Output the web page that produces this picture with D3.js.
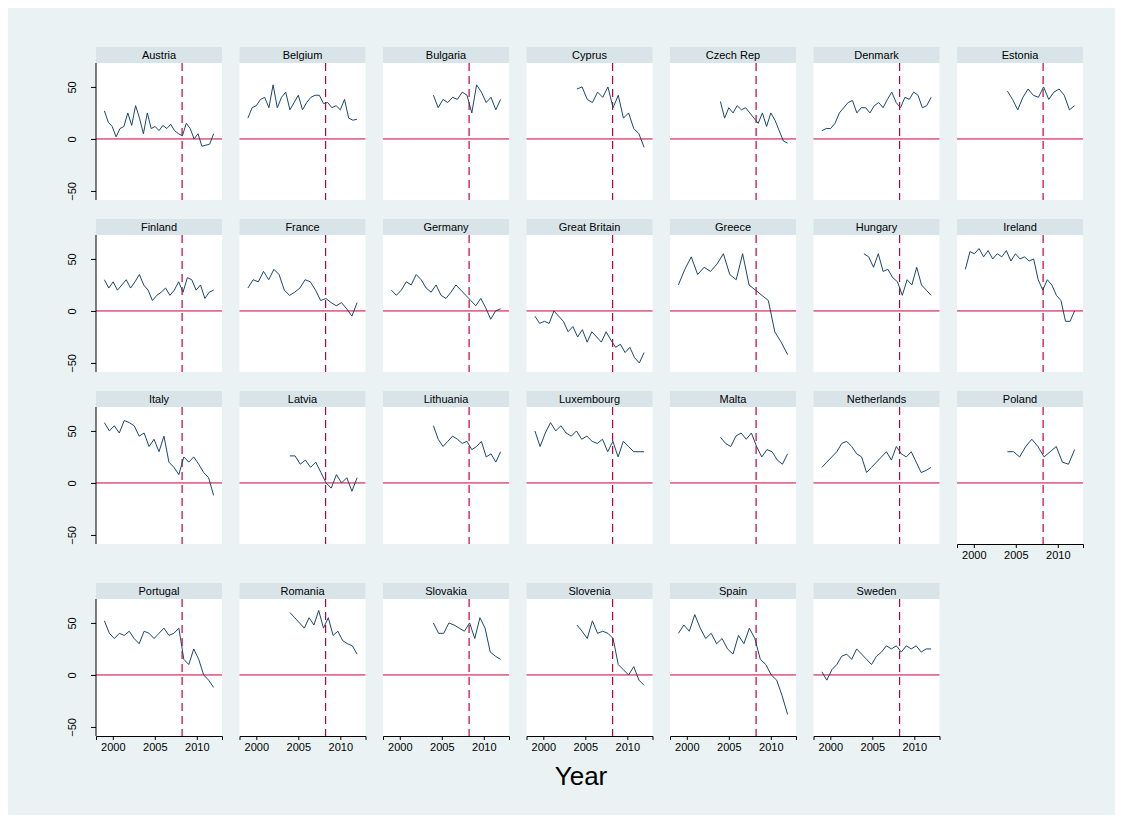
<!DOCTYPE html>
<html>
<meta charset="utf-8" />
<title>Panels</title>
<style>body{margin:0;background:#fff}svg text{font-family:"Liberation Sans",Arial,sans-serif}</style>
<body>
<div id="chart"></div>
<script src="https://cdn.jsdelivr.net/npm/d3@7"></script>
<script>
  // country, first year, values (evenly spread up to 2012)
  var countries = ['Austria','Belgium','Bulgaria','Cyprus','Czech Rep','Denmark','Estonia',
    'Finland','France','Germany','Great Britain','Greece','Hungary','Ireland',
    'Italy','Latvia','Lithuania','Luxembourg','Malta','Netherlands','Poland',
    'Portugal','Romania','Slovakia','Slovenia','Spain','Sweden'];
  var startYears = [1999,1999,2004,2004,2004,1999,2004, 1999,1999,1999,1999,1999,2004,1999,
    1999,2004,2004,1999,2004,1999,2004, 1999,2004,2004,2004,1999,1999];
  var series = [
    [27,16,12,2,10,12,25,13,32,20,5,25,10,12,8,13,10,14,8,5,3,15,10,0,5,-7,-6,-5,5],
    [20,30,32,38,40,30,52,30,40,45,28,35,42,28,35,40,42,42,34,35,30,32,28,38,20,18,19],
    [42,30,38,35,40,38,45,42,25,52,45,35,40,28,38],
    [48,50,38,35,45,40,50,30,42,20,25,10,5,-8],
    [36,20,30,25,32,28,30,25,20,15,25,12,25,18,8,-2,-4],
    [8,10,10,15,25,30,35,37,25,30,30,25,32,35,30,38,45,35,30,40,38,45,42,30,32,40],
    [46,38,28,40,48,42,40,50,38,45,48,42,28,32],
    [30,22,28,20,25,30,22,28,35,25,20,10,15,18,22,15,20,28,18,32,30,20,25,12,18,20],
    [22,30,28,38,30,40,35,20,15,18,22,30,28,20,10,12,8,5,8,2,-5,8],
    [20,15,20,28,25,35,30,22,18,25,15,12,18,25,20,15,10,5,12,3,-8,0,2],
    [-5,-12,-10,-12,0,-5,-10,-20,-15,-25,-18,-30,-20,-25,-30,-20,-28,-35,-32,-40,-35,-45,-50,-40],
    [25,40,52,35,42,38,45,55,35,30,55,25,20,15,10,-20,-30,-42],
    [55,52,42,55,38,40,32,28,15,30,25,42,25,20,15],
    [40,57,55,60,52,58,50,55,52,58,48,55,50,52,48,50,30,20,30,25,15,10,-10,-10,0],
    [58,50,55,48,60,58,55,45,48,35,42,30,45,20,15,8,25,20,25,18,10,5,-12],
    [26,26,18,22,15,20,10,0,-5,8,0,5,-8,5],
    [55,42,35,40,45,42,38,40,32,35,40,25,28,20,30],
    [50,35,48,58,50,55,48,45,50,42,45,40,38,42,30,40,25,40,35,30,30,30],
    [44,38,35,45,48,42,48,35,25,32,30,22,18,28],
    [15,20,25,30,38,40,35,28,25,10,15,20,25,30,22,35,28,25,30,20,10,12,15],
    [30,30,25,35,42,35,25,30,35,20,18,32],
    [52,40,35,40,38,42,35,30,42,40,35,40,45,38,40,45,15,10,25,15,0,-5,-12],
    [60,55,50,45,55,48,62,45,55,38,42,33,30,28,20],
    [50,40,40,50,48,45,42,50,35,55,45,22,18,15],
    [48,42,35,52,40,42,40,35,10,5,0,8,-5,-10],
    [40,48,42,58,45,35,40,30,35,25,20,38,30,45,35,15,10,0,-5,-20,-38],
    [3,-5,5,10,18,20,15,25,20,15,10,18,22,28,25,28,22,28,25,28,22,25,25]
  ];
  var yTicks = [50, 0, -50];
  var xTicks = [2000, 2005, 2010];
  var endYear = 2012, crisisYear = 2008.25;

  var W = 1122, H = 816;
  var svg = d3.select('#chart').append('svg').attr('width', W).attr('height', H);
  svg.append('rect').attr('x', 8).attr('y', 8).attr('width', 1107).attr('height', 807).attr('fill', '#eaf2f3');

  var headTops = [47, 219, 391, 583];
  var colLeft = function(c) { return 96 + c * 143.5; };
  var pw = 126, hh = 16, ph = 137;
  var x = d3.scaleLinear().domain([1998, 2013]).range([0, pw]);
  var y = d3.scaleLinear().domain([-58.7, 73]).range([ph, 0]);
  var line = d3.line().x(function(d) { return x(d[0]); }).y(function(d) { return y(d[1]); });

  countries.forEach(function(name, i) {
    var r = Math.floor(i / 7), c = i % 7;
    var g = svg.append('g').attr('transform', 'translate(' + colLeft(c) + ',' + headTops[r] + ')');
    g.append('rect').attr('width', pw).attr('height', hh).attr('fill', '#d9e4e9');
    g.append('text').attr('x', pw / 2).attr('y', 12).attr('text-anchor', 'middle')
      .attr('font-size', 11).text(name);
    var p = g.append('g').attr('transform', 'translate(0,' + hh + ')');
    p.append('rect').attr('width', pw).attr('height', ph).attr('fill', '#fff');
    p.append('line').attr('x1', 0).attr('x2', pw).attr('y1', y(0)).attr('y2', y(0))
      .attr('stroke', '#c4003a').attr('stroke-width', 1);
    p.append('line').attr('x1', x(crisisYear)).attr('x2', x(crisisYear)).attr('y1', 0).attr('y2', ph)
      .attr('stroke', '#c4003a').attr('stroke-width', 1.2).attr('stroke-dasharray', '8,5');
    var vals = series[i], s = startYears[i];
    var step = (endYear - s) / (vals.length - 1);
    var pts = vals.map(function(v, k) { return [s + k * step, v]; });
    p.append('path').datum(pts).attr('d', line).attr('fill', 'none')
      .attr('stroke', '#1a476f').attr('stroke-width', 1);

    if (c === 0) {
      var ya = p.append('g').call(d3.axisLeft(y).tickValues(yTicks).tickSize(5).tickFormat(d3.format('d')));
      ya.select('.domain').attr('d', 'M0,0V' + ph);
      ya.selectAll('text').attr('font-size', 11).attr('transform', 'rotate(-90)')
        .attr('text-anchor', 'middle').attr('x', 0).attr('y', -20).attr('dy', '0');
    }
    if (r === 3 || i === 20) {
      var xa = p.append('g').attr('transform', 'translate(0,' + ph + ')')
        .call(d3.axisBottom(x).tickValues(xTicks).tickSize(4).tickFormat(d3.format('d')));
      xa.selectAll('text').attr('font-size', 11);
    }
  });

  svg.append('text').attr('x', 581).attr('y', 785).attr('text-anchor', 'middle')
    .attr('font-size', 26).text('Year');
</script>
</body>
</html>
